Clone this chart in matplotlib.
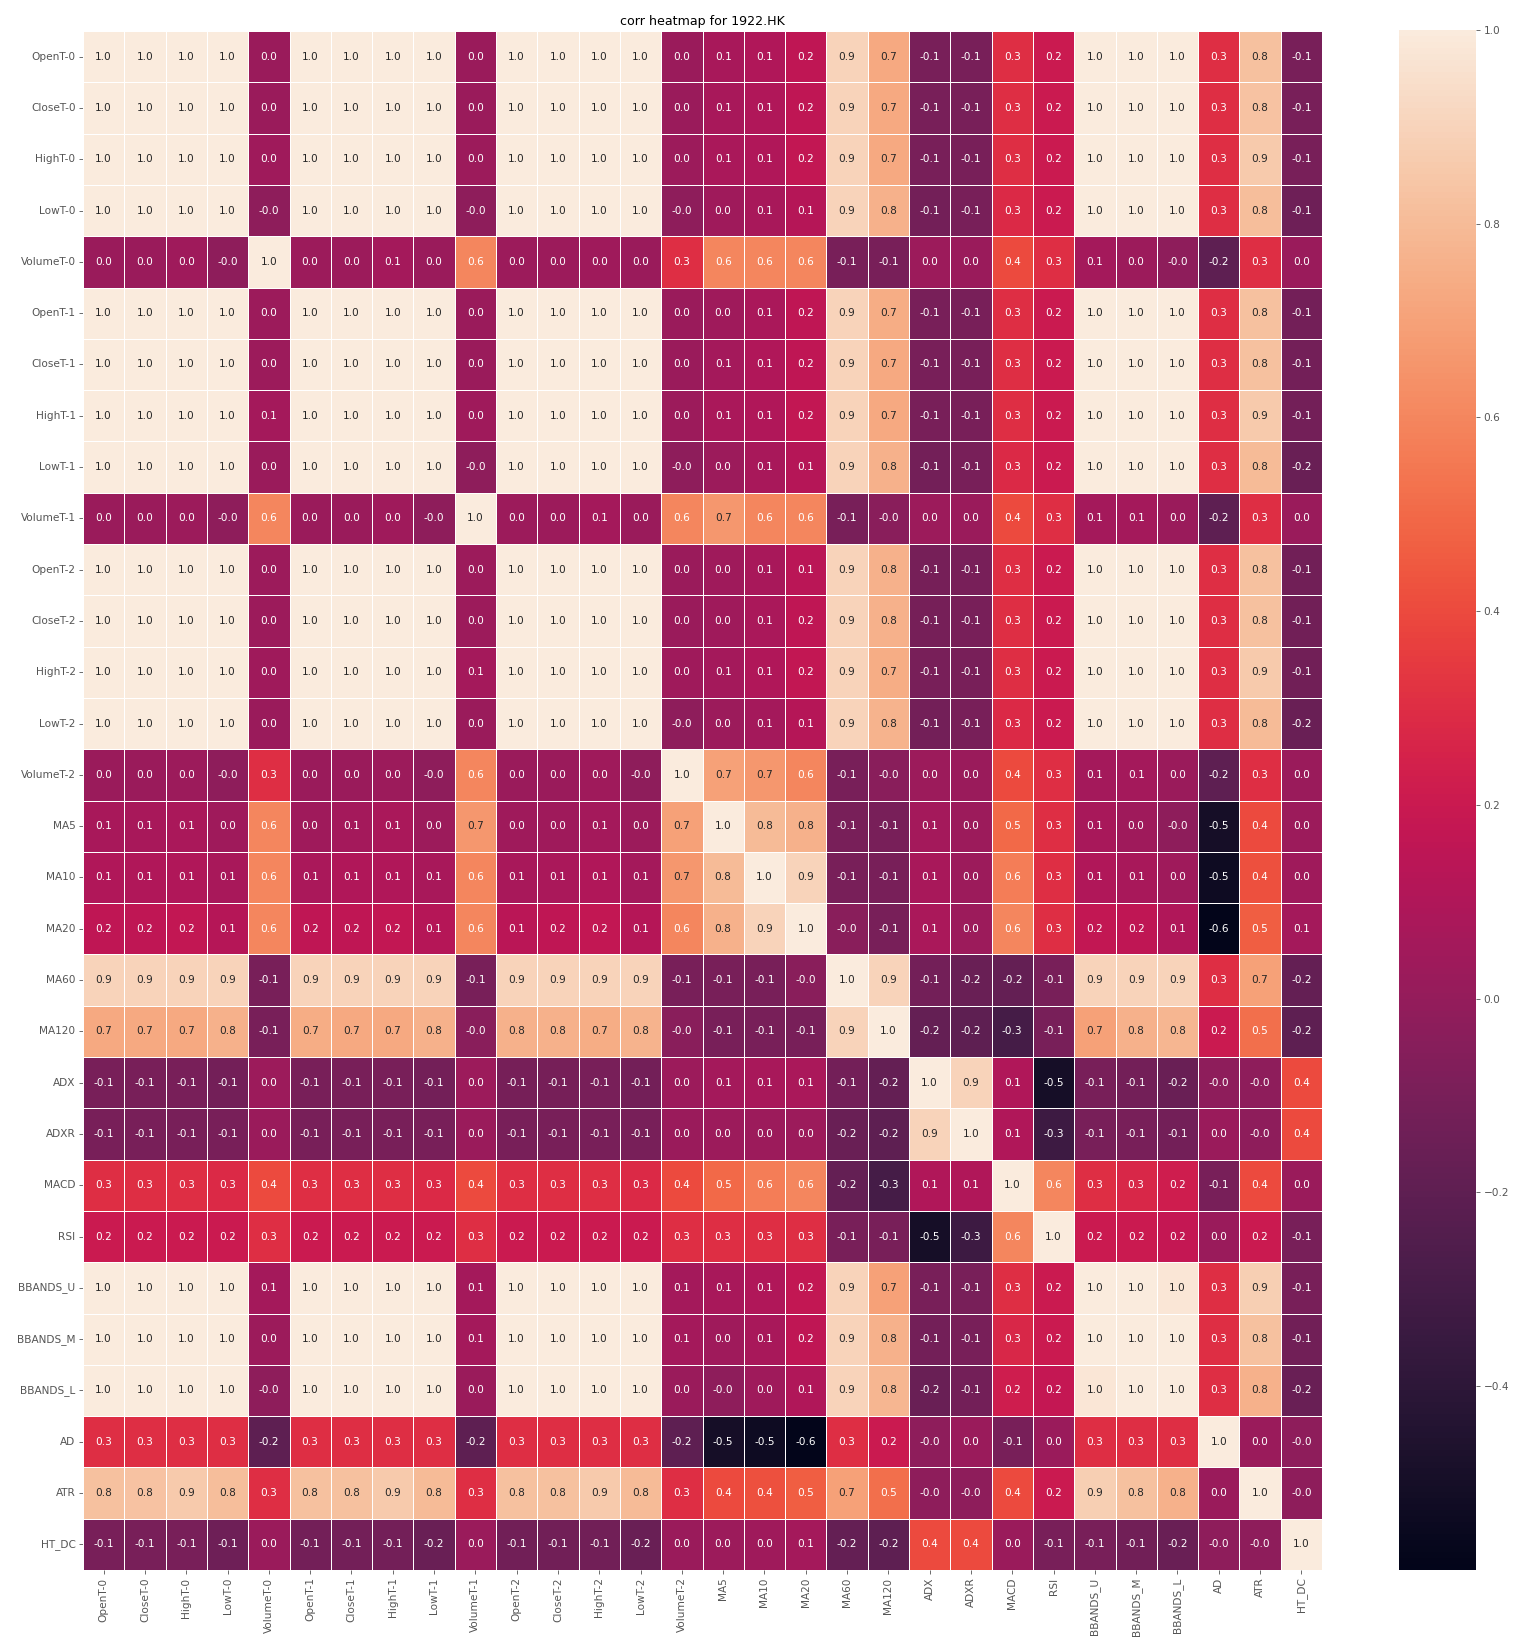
import numpy as np
import pandas as pd
import matplotlib
matplotlib.use("Agg")
import matplotlib.pyplot as plt
import seaborn as sns

labels = ["OpenT-0", "CloseT-0", "HighT-0", "LowT-0", "VolumeT-0",
          "OpenT-1", "CloseT-1", "HighT-1", "LowT-1", "VolumeT-1",
          "OpenT-2", "CloseT-2", "HighT-2", "LowT-2", "VolumeT-2",
          "MA5", "MA10", "MA20", "MA60", "MA120", "ADX", "ADXR", "MACD", "RSI",
          "BBANDS_U", "BBANDS_M", "BBANDS_L", "AD", "ATR", "HT_DC"]

r_open0 = [1.0, 1.0, 1.0, 1.0, 0.02, 1.0, 1.0, 1.0, 1.0, 0.02, 1.0, 1.0, 1.0, 1.0, 0.02, 0.07, 0.1, 0.16, 0.9, 0.73, -0.1, -0.1, 0.3, 0.2, 1.0, 1.0, 1.0, 0.3, 0.82, -0.1]
r_close0 = [1.0, 1.0, 1.0, 1.0, 0.02, 1.0, 1.0, 1.0, 1.0, 0.02, 1.0, 1.0, 1.0, 1.0, 0.02, 0.07, 0.1, 0.16, 0.9, 0.73, -0.1, -0.1, 0.3, 0.2, 1.0, 1.0, 1.0, 0.3, 0.83, -0.1]
r_high0 = [1.0, 1.0, 1.0, 1.0, 0.04, 1.0, 1.0, 1.0, 1.0, 0.03, 1.0, 1.0, 1.0, 1.0, 0.03, 0.08, 0.1, 0.17, 0.9, 0.73, -0.1, -0.1, 0.3, 0.2, 1.0, 1.0, 1.0, 0.3, 0.86, -0.1]
r_low0 = [1.0, 1.0, 1.0, 1.0, -0.02, 1.0, 1.0, 1.0, 1.0, -0.02, 1.0, 1.0, 1.0, 1.0, -0.02, 0.04, 0.07, 0.12, 0.9, 0.76, -0.12, -0.1, 0.28, 0.2, 1.0, 1.0, 1.0, 0.3, 0.81, -0.14]
r_vol0 = [0.02, 0.02, 0.04, -0.02, 1.0, 0.03, 0.03, 0.06, 0.02, 0.6, 0.03, 0.03, 0.04, 0.02, 0.3, 0.6, 0.6, 0.6, -0.1, -0.1, 0.03, 0.02, 0.4, 0.3, 0.06, 0.03, -0.02, -0.2, 0.3, 0.02]
r_open1 = [1.0, 1.0, 1.0, 1.0, 0.03, 1.0, 1.0, 1.0, 1.0, 0.02, 1.0, 1.0, 1.0, 1.0, 0.02, 0.04, 0.08, 0.16, 0.9, 0.74, -0.1, -0.1, 0.3, 0.2, 1.0, 1.0, 1.0, 0.3, 0.82, -0.12]
r_close1 = [1.0, 1.0, 1.0, 1.0, 0.03, 1.0, 1.0, 1.0, 1.0, 0.02, 1.0, 1.0, 1.0, 1.0, 0.02, 0.06, 0.1, 0.16, 0.9, 0.73, -0.1, -0.1, 0.3, 0.2, 1.0, 1.0, 1.0, 0.3, 0.82, -0.12]
r_high1 = [1.0, 1.0, 1.0, 1.0, 0.06, 1.0, 1.0, 1.0, 1.0, 0.04, 1.0, 1.0, 1.0, 1.0, 0.03, 0.08, 0.1, 0.17, 0.9, 0.73, -0.1, -0.1, 0.3, 0.2, 1.0, 1.0, 1.0, 0.3, 0.86, -0.12]
r_low1 = [1.0, 1.0, 1.0, 1.0, 0.02, 1.0, 1.0, 1.0, 1.0, -0.02, 1.0, 1.0, 1.0, 1.0, -0.02, 0.03, 0.07, 0.12, 0.9, 0.76, -0.12, -0.1, 0.28, 0.2, 1.0, 1.0, 1.0, 0.3, 0.8, -0.16]
r_vol1 = [0.02, 0.02, 0.03, -0.02, 0.6, 0.02, 0.02, 0.04, -0.02, 1.0, 0.03, 0.03, 0.06, 0.02, 0.6, 0.66, 0.6, 0.6, -0.1, -0.04, 0.03, 0.02, 0.4, 0.3, 0.06, 0.06, 0.02, -0.2, 0.3, 0.02]
r_open2 = [1.0, 1.0, 1.0, 1.0, 0.03, 1.0, 1.0, 1.0, 1.0, 0.03, 1.0, 1.0, 1.0, 1.0, 0.02, 0.04, 0.07, 0.14, 0.9, 0.76, -0.11, -0.1, 0.3, 0.2, 1.0, 1.0, 1.0, 0.3, 0.82, -0.13]
r_close2 = [1.0, 1.0, 1.0, 1.0, 0.03, 1.0, 1.0, 1.0, 1.0, 0.03, 1.0, 1.0, 1.0, 1.0, 0.02, 0.04, 0.08, 0.16, 0.9, 0.76, -0.11, -0.1, 0.3, 0.2, 1.0, 1.0, 1.0, 0.3, 0.82, -0.13]
r_high2 = [1.0, 1.0, 1.0, 1.0, 0.04, 1.0, 1.0, 1.0, 1.0, 0.06, 1.0, 1.0, 1.0, 1.0, 0.04, 0.06, 0.1, 0.17, 0.9, 0.74, -0.1, -0.1, 0.3, 0.2, 1.0, 1.0, 1.0, 0.3, 0.86, -0.13]
r_low2 = [1.0, 1.0, 1.0, 1.0, 0.02, 1.0, 1.0, 1.0, 1.0, 0.02, 1.0, 1.0, 1.0, 1.0, -0.02, 0.03, 0.06, 0.12, 0.9, 0.77, -0.12, -0.1, 0.28, 0.2, 1.0, 1.0, 1.0, 0.3, 0.8, -0.16]
r_vol2 = [0.02, 0.02, 0.03, -0.02, 0.3, 0.02, 0.02, 0.03, -0.02, 0.6, 0.02, 0.02, 0.04, -0.02, 1.0, 0.7, 0.66, 0.6, -0.1, -0.04, 0.03, 0.02, 0.4, 0.3, 0.06, 0.06, 0.02, -0.2, 0.3, 0.02]
r_ma5 = [0.07, 0.07, 0.08, 0.04, 0.6, 0.04, 0.06, 0.08, 0.03, 0.66, 0.04, 0.04, 0.06, 0.03, 0.7, 1.0, 0.8, 0.76, -0.1, -0.1, 0.06, 0.03, 0.5, 0.3, 0.07, 0.04, -0.02, -0.5, 0.4, 0.03]
r_ma10 = [0.1, 0.1, 0.1, 0.07, 0.6, 0.08, 0.1, 0.1, 0.07, 0.6, 0.07, 0.08, 0.1, 0.06, 0.66, 0.8, 1.0, 0.9, -0.1, -0.1, 0.07, 0.03, 0.57, 0.3, 0.1, 0.07, 0.04, -0.53, 0.42, 0.04]
r_ma20 = [0.16, 0.16, 0.17, 0.12, 0.6, 0.16, 0.16, 0.17, 0.12, 0.6, 0.14, 0.16, 0.17, 0.12, 0.6, 0.76, 0.9, 1.0, -0.04, -0.1, 0.08, 0.03, 0.6, 0.3, 0.17, 0.16, 0.1, -0.59, 0.46, 0.06]
r_ma60 = [0.9, 0.9, 0.9, 0.9, -0.1, 0.9, 0.9, 0.9, 0.9, -0.1, 0.9, 0.9, 0.9, 0.9, -0.1, -0.1, -0.1, -0.04, 1.0, 0.9, -0.12, -0.16, -0.18, -0.1, 0.9, 0.9, 0.9, 0.3, 0.7, -0.18]
r_ma120 = [0.73, 0.73, 0.73, 0.76, -0.1, 0.74, 0.73, 0.73, 0.76, -0.04, 0.76, 0.76, 0.74, 0.77, -0.04, -0.1, -0.1, -0.1, 0.9, 1.0, -0.18, -0.2, -0.3, -0.1, 0.7, 0.76, 0.78, 0.2, 0.52, -0.2]
r_adx = [-0.1, -0.1, -0.1, -0.12, 0.03, -0.1, -0.1, -0.1, -0.12, 0.03, -0.11, -0.11, -0.1, -0.12, 0.03, 0.06, 0.07, 0.08, -0.12, -0.18, 1.0, 0.9, 0.1, -0.5, -0.1, -0.12, -0.16, -0.02, -0.02, 0.4]
r_adxr = [-0.1, -0.1, -0.1, -0.1, 0.02, -0.1, -0.1, -0.1, -0.1, 0.02, -0.1, -0.1, -0.1, -0.1, 0.02, 0.03, 0.03, 0.03, -0.16, -0.2, 0.9, 1.0, 0.1, -0.33, -0.1, -0.1, -0.12, 0.02, -0.02, 0.4]
r_macd = [0.3, 0.3, 0.3, 0.28, 0.4, 0.3, 0.3, 0.3, 0.28, 0.4, 0.3, 0.3, 0.3, 0.28, 0.4, 0.5, 0.57, 0.6, -0.18, -0.3, 0.1, 0.1, 1.0, 0.6, 0.3, 0.27, 0.22, -0.1, 0.4, 0.02]
r_rsi = [0.2, 0.2, 0.2, 0.2, 0.3, 0.2, 0.2, 0.2, 0.2, 0.3, 0.2, 0.2, 0.2, 0.2, 0.3, 0.3, 0.3, 0.3, -0.1, -0.1, -0.5, -0.33, 0.6, 1.0, 0.2, 0.2, 0.18, 0.02, 0.2, -0.1]
r_bbu = [1.0, 1.0, 1.0, 1.0, 0.06, 1.0, 1.0, 1.0, 1.0, 0.06, 1.0, 1.0, 1.0, 1.0, 0.06, 0.07, 0.1, 0.17, 0.9, 0.7, -0.1, -0.1, 0.3, 0.2, 1.0, 1.0, 0.98, 0.3, 0.88, -0.1]
r_bbm = [1.0, 1.0, 1.0, 1.0, 0.03, 1.0, 1.0, 1.0, 1.0, 0.06, 1.0, 1.0, 1.0, 1.0, 0.06, 0.04, 0.07, 0.16, 0.9, 0.76, -0.12, -0.1, 0.27, 0.2, 1.0, 1.0, 1.0, 0.3, 0.82, -0.13]
r_bbl = [1.0, 1.0, 1.0, 1.0, -0.02, 1.0, 1.0, 1.0, 1.0, 0.02, 1.0, 1.0, 1.0, 1.0, 0.02, -0.02, 0.04, 0.1, 0.9, 0.78, -0.16, -0.12, 0.22, 0.18, 0.98, 1.0, 1.0, 0.3, 0.76, -0.16]
r_ad = [0.3, 0.3, 0.3, 0.3, -0.2, 0.3, 0.3, 0.3, 0.3, -0.2, 0.3, 0.3, 0.3, 0.3, -0.2, -0.5, -0.53, -0.59, 0.3, 0.2, -0.02, 0.02, -0.1, 0.02, 0.3, 0.3, 0.3, 1.0, 0.02, -0.02]
r_atr = [0.82, 0.83, 0.86, 0.81, 0.3, 0.82, 0.82, 0.86, 0.8, 0.3, 0.82, 0.82, 0.86, 0.8, 0.3, 0.4, 0.42, 0.46, 0.7, 0.52, -0.02, -0.02, 0.4, 0.2, 0.88, 0.82, 0.76, 0.02, 1.0, -0.02]
r_htdc = [-0.1, -0.1, -0.1, -0.14, 0.02, -0.12, -0.12, -0.12, -0.16, 0.02, -0.13, -0.13, -0.13, -0.16, 0.02, 0.03, 0.04, 0.06, -0.18, -0.2, 0.4, 0.4, 0.02, -0.1, -0.1, -0.13, -0.16, -0.02, -0.02, 1.0]

rows = [r_open0, r_close0, r_high0, r_low0, r_vol0, r_open1, r_close1, r_high1, r_low1, r_vol1,
        r_open2, r_close2, r_high2, r_low2, r_vol2, r_ma5, r_ma10, r_ma20, r_ma60, r_ma120,
        r_adx, r_adxr, r_macd, r_rsi, r_bbu, r_bbm, r_bbl, r_ad, r_atr, r_htdc]

corr = pd.DataFrame(np.array(rows), index=labels, columns=labels)

plt.style.use("ggplot")
DPI = 76
fig = plt.figure(figsize=(1522 / DPI, 1652 / DPI), dpi=DPI)
W, H = 1522, 1652
ax = fig.add_axes([83 / W, 1 - 1570 / H, (1322 - 83) / W, (1570 - 31) / H])
cax = fig.add_axes([1399 / W, 1 - 1570 / H, (1476 - 1399) / W, (1570 - 30) / H])

sns.heatmap(corr, annot=True, fmt=".1f", linewidths=0.8, linecolor="white",
            ax=ax, cbar_ax=cax, annot_kws={"fontsize": 10})
ax.set_title("corr heatmap for 1922.HK", fontsize=12, color="black")
ax.set_xticklabels(labels, rotation=90)
ax.set_yticklabels(labels, rotation=0)
ax.tick_params(axis="both", labelsize=10, colors="#555555", labelcolor="#555555")
cax.tick_params(labelsize=10, colors="#555555", labelcolor="#555555")

fig.savefig("out.png", dpi=DPI)
